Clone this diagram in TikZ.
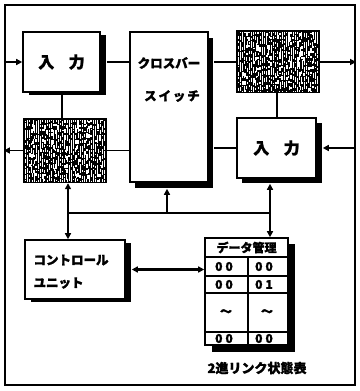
\documentclass[tikz,border=0pt]{standalone}
\usepackage{fontspec}
\newfontfamily\jp{Noto Sans CJK JP}[BoldFeatures={FakeBold=1.5}]
\usetikzlibrary{arrows.meta}
\tikzset{
  box/.style={draw,line width=1.6pt,fill=white,inner sep=0pt},
  hbox/.style={fill=black,inner sep=0pt},
  shd/.style={fill=black},
  ln/.style={line width=1.8pt},
  bus/.style={line width=2.6pt},
  arr/.style={line width=1.8pt,-{Triangle[length=6pt,width=6pt]}},
  darr/.style={line width=2.6pt,{Triangle[length=6pt,width=6pt]}-{Triangle[length=6pt,width=6pt]}},
  lbl/.style={font=\jp\bfseries},
}
\newcommand{\noisefill}[6]{%
  \foreach \xx in {#1,#2,...,#3}{%
    \foreach \yy in {#4,#5,...,#6}{%
      \pgfmathsetmacro\ya{\yy+3*rnd}%
      \pgfmathsetmacro\le{1+4.5*rnd}%
      \draw[white,line width=1.2pt] (\xx+0.6*rnd,\ya) -- ++(0,\le);
    }%
  }%
}
\begin{document}
\begin{tikzpicture}[x=1pt,y=-1pt]
\useasboundingbox (0,0) rectangle (359,391);
\pgfmathsetseed{7}
% frame
\node[draw,line width=2.2pt,minimum width=350pt,minimum height=380pt,inner sep=0pt] (frame) at (180,195) {};
% shadows
\path[shd] (29,35) rectangle (106,95);
\path[shd] (135,38) rectangle (213,188);
\path[shd] (242,123) rectangle (322,183);
\path[shd] (31,243) rectangle (131,302);
\path[shd] (212,244) rectangle (295,352);
% boxes
\node[box,minimum width=77pt,minimum height=60pt,lbl,font=\jp\bfseries\fontsize{16}{18}\selectfont] (inTL) at (61.5,62) {入\hspace{0.9em}力};
\node[hbox,minimum width=84pt,minimum height=65pt] (hatL) at (65,150.5) {};
\node[box,minimum width=78pt,minimum height=150pt] (xbar) at (169,107) {};
\node[lbl,font=\jp\bfseries\fontsize{12.5}{14}\selectfont] (xbt1) at (169,63) {クロスバー};
\node[lbl,font=\jp\bfseries\fontsize{12.5}{14}\selectfont] (xbt2) at (172,96) {ス\hspace{0.15em}イ\hspace{0.15em}ッ\hspace{0.15em}チ};
\node[hbox,minimum width=84pt,minimum height=63pt] (hatR) at (278,61.5) {};
\node[box,minimum width=79pt,minimum height=60pt,lbl,font=\jp\bfseries\fontsize{16}{18}\selectfont] (inR) at (276.5,148) {入\hspace{0.9em}力};
\node[box,minimum width=100pt,minimum height=59pt] (ctrl) at (75,269.5) {};
\node[lbl,font=\jp\bfseries\fontsize{12.5}{14}\selectfont,anchor=west] (ct1) at (30,260) {コントロール};
\node[lbl,font=\jp\bfseries\fontsize{12.5}{14}\selectfont,anchor=west] (ct2) at (30,283) {ユニット};
% noise
\begin{scope}
\clip (25,120) rectangle (105,181);
\noisefill{25}{27.2}{105}{118}{123}{181}
\end{scope}
\begin{scope}
\clip (238,32) rectangle (318,91);
\noisefill{238}{240.2}{318}{30}{35}{91}
\end{scope}
% table
\node[box,minimum width=83pt,minimum height=107pt] (tbl) at (246.5,291.5) {};
\draw[line width=1.6pt] (tbl.west |- 0,257) -- (tbl.east |- 0,257);
\draw[line width=1.6pt] (tbl.west |- 0,276) -- (tbl.east |- 0,276);
\draw[line width=1.6pt] (tbl.west |- 0,293) -- (tbl.east |- 0,293);
\draw[line width=1.6pt] (tbl.west |- 0,332) -- (tbl.east |- 0,332);
\draw[line width=1.6pt] (248,257) -- (248,345);
\node[lbl,font=\jp\bfseries\fontsize{12}{13}\selectfont] (th) at (246.5,247.5) {データ管理};
\tikzset{cell/.style={font=\jp\bfseries\fontsize{12}{13}\selectfont}}
\node[cell] (c11) at (224,266.5) {0\hspace{0.25em}0};
\node[cell] (c12) at (264,266.5) {0\hspace{0.25em}0};
\node[cell] (c21) at (224,284.5) {0\hspace{0.25em}0};
\node[cell] (c22) at (264,284.5) {0\hspace{0.25em}1};
\node[cell] (c31) at (226,312.5) {～};
\node[cell] (c32) at (267,312.5) {～};
\node[cell] (c41) at (224,338.5) {0\hspace{0.25em}0};
\node[cell] (c42) at (264,338.5) {0\hspace{0.25em}0};
\node[lbl,font=\jp\bfseries\fontsize{13}{15}\selectfont] (cap) at (257,368) {2進リンク状態表};
% connectors
\draw[arr] (frame.west |- inTL.west) -- (inTL.west);
\draw[ln] ([xshift=6pt]inTL.east) -- (inTL.east -| xbar.west);
\draw[ln] (inTL.south -| 62,0) -- (hatL.north -| 62,0);
\draw[arr] (hatL.west) -- (hatL.west -| frame.west);
\draw[ln] (hatL.east) -- (hatL.east -| xbar.west);
\draw[ln] (hatR.west |- 0,62) -- ([xshift=5pt]xbar.east |- 0,62);
\draw[arr] (hatR.east |- 0,62) -- (frame.east |- 0,62);
\draw[ln] (hatR.south -| 277,0) -- (inR.north -| 277,0);
\draw[ln] (inR.west) -- ([xshift=5pt]xbar.east |- inR.west);
\draw[arr] (frame.east |- inR.east) -- ([xshift=6pt]inR.east);
\coordinate (bL) at (68,213);
\coordinate (bM) at (167,213);
\coordinate (bR) at (270,213);
\draw[ln] (bL) -- (bR);
\draw[darr] (hatL.south -| bL) -- (ctrl.north -| bL);
\draw[bus,-{Triangle[length=6pt,width=6pt]}] (bM) -- ([yshift=-6pt]xbar.south -| bM);
\draw[darr] ([yshift=-5pt]inR.south -| bR) -- (tbl.north -| bR);
\draw[darr] ([xshift=6pt]ctrl.east) -- (tbl.west |- ctrl.east);
\end{tikzpicture}
\end{document}
